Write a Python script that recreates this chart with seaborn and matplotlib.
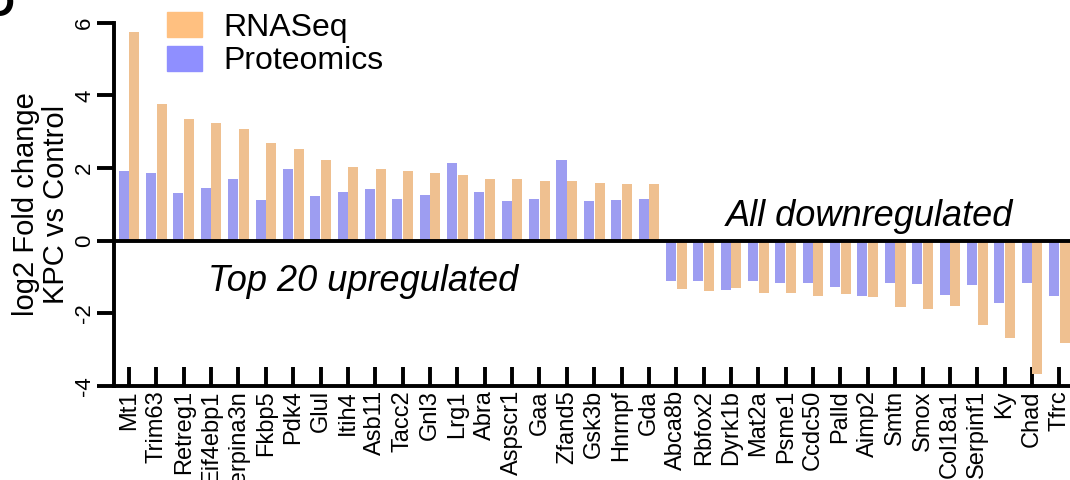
import matplotlib
matplotlib.use("Agg")
import matplotlib.pyplot as plt
from matplotlib.patches import Patch
import seaborn as sns
import pandas as pd

sns.set_style("white")
plt.rcParams["font.family"] = ["Liberation Sans", "DejaVu Sans"]
for key in ["text.color", "axes.labelcolor", "xtick.color", "ytick.color"]:
    plt.rcParams[key] = "black"

# Data
genes = ["Mt1", "Trim63", "Retreg1", "Eif4ebp1", "Serpina3n", "Fkbp5", "Pdk4",
         "Glul", "Itih4", "Asb11", "Tacc2", "Gnl3", "Lrg1", "Abra", "Aspscr1",
         "Gaa", "Zfand5", "Gsk3b", "Hnrnpf", "Gda",
         "Abca8b", "Rbfox2", "Dyrk1b", "Mat2a", "Psme1", "Ccdc50", "Palld",
         "Aimp2", "Smtn", "Smox", "Col18a1", "Serpinf1", "Ky", "Chad", "Tfrc"]
rnaseq = [5.75, 3.76, 3.34, 3.23, 3.07, 2.68, 2.51, 2.21, 2.02, 1.96, 1.93,
          1.85, 1.82, 1.71, 1.69, 1.63, 1.63, 1.60, 1.57, 1.56,
          -1.33, -1.38, -1.30, -1.44, -1.44, -1.52, -1.46, -1.55, -1.82,
          -1.88, -1.79, -2.32, -2.68, -3.67, -2.82]
proteomics = [1.91, 1.85, 1.30, 1.44, 1.71, 1.13, 1.96, 1.22, 1.35, 1.41,
              1.16, 1.27, 2.15, 1.33, 1.08, 1.16, 2.21, 1.08, 1.13, 1.16,
              -1.12, -1.12, -1.35, -1.12, -1.16, -1.16, -1.27, -1.52, -1.16,
              -1.19, -1.49, -1.22, -1.71, -1.16, -1.52]
yticks = [-4, -2, 0, 2, 4, 6]

colors = {"RNASeq": "#FFC080", "Proteomics": "#8F8FFF"}

df = pd.DataFrame({
    "gene": genes * 2,
    "value": proteomics + rnaseq,
    "method": ["Proteomics"] * len(genes) + ["RNASeq"] * len(genes),
})

fig = plt.figure(figsize=(10.7, 4.8), dpi=100)
ax = fig.add_axes([114 / 1070, 94 / 480, 956 / 1070, 363.3 / 480])

sns.barplot(data=df, x="gene", y="value", hue="method",
            hue_order=["Proteomics", "RNASeq"], palette=colors,
            order=genes, width=0.78, gap=0.06, errorbar=None,
            linewidth=0, legend=False, ax=ax)

ax.axhline(0, color="black", lw=2.8, zorder=5)

ax.set_ylim(-4, 6)
ax.set_xlim(-0.55, 34.39)
ax.set_yticks(yticks)
ax.set_yticklabels([str(t) for t in yticks], rotation=90, va="center",
                   fontsize=16)
ax.tick_params(axis="y", left=True, direction="out", length=12, width=2.8,
               pad=1.5)
ax.tick_params(axis="x", bottom=True, direction="in", length=14, width=2.8,
               pad=3)
ax.set_xticks(range(len(genes)))
ax.set_xticklabels(genes, rotation=90, fontsize=17, ha="center", va="top")
ax.set_xlabel("")
ax.set_ylabel("")

for side in ["top", "right"]:
    ax.spines[side].set_visible(False)
for side in ["left", "bottom"]:
    ax.spines[side].set_linewidth(2.8)
    ax.spines[side].set_color("black")

fig.text(41 / 1070, 1 - 204 / 480, "log2 Fold change\nKPC vs Control",
         rotation=90, ha="center", va="center", fontsize=21, linespacing=1.1)

ax.text(8.55, -1.376, "Top 20 upregulated", style="italic", fontsize=26,
        ha="center", va="baseline")
ax.text(27.07, 0.41, "All downregulated", style="italic", fontsize=26,
        ha="center", va="baseline")

handles = [Patch(color=colors["RNASeq"], label="RNASeq"),
           Patch(color=colors["Proteomics"], label="Proteomics")]
ax.legend(handles=handles, loc="upper left", bbox_to_anchor=(0.055, 1.03),
          frameon=False, fontsize=23, handlelength=1.12, handleheight=0.84,
          handletextpad=0.66, labelspacing=0.1, borderpad=0, borderaxespad=0)

# partially visible panel letter
fig.text(-0.015, 0.99, "D", fontsize=30, fontweight="bold",
         ha="left", va="center")

fig.savefig("out.png", dpi=100)
